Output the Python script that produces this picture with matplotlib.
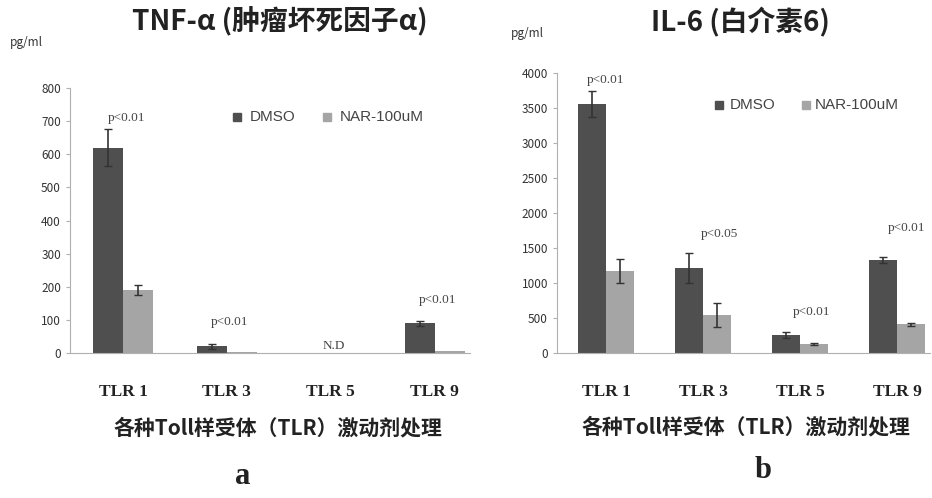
import numpy as np
import matplotlib
matplotlib.use('Agg')
import matplotlib.pyplot as plt

plt.rcParams['font.family'] = ['Noto Sans CJK SC', 'DejaVu Sans']

# Data
categories = ['TLR 1', 'TLR 3', 'TLR 5', 'TLR 9']
series_names = ['DMSO', 'NAR-100uM']

tnf_dmso = [620, 20, 0, 90]
tnf_dmso_err = [55, 8, 0, 8]
tnf_nar = [190, 2, 0, 5]
tnf_nar_err = [15, 0, 0, 0]
tnf_labels = ['p<0.01', 'p<0.01', 'N.D', 'p<0.01']
tnf_label_y = [710, 95, 22, 160]

il6_dmso = [3560, 1220, 260, 1330]
il6_dmso_err = [190, 215, 45, 40]
il6_nar = [1170, 540, 130, 410]
il6_nar_err = [170, 170, 20, 25]
il6_labels = ['p<0.01', 'p<0.05', 'p<0.01', 'p<0.01']
il6_label_y = [3900, 1700, 580, 1790]
il6_label_dx = [0.0, 0.17, 0.12, 0.1]

xlabel_text = '各种Toll样受体（TLR）激动剂处理'

W, H = 932, 498
fig = plt.figure(figsize=(W / 100, H / 100), dpi=100)

dmso_color = '#4f4f4f'
nar_color = '#a5a5a5'
axis_color = '#b0b0b0'


def px_axes(x0, x1, ytop, ybot):
    return fig.add_axes([x0 / W, (H - ybot) / H, (x1 - x0) / W, (ybot - ytop) / H])


def style_axes(ax, ymax, step):
    ax.set_ylim(0, ymax)
    ax.set_yticks(np.arange(0, ymax + 1, step))
    for s in ['top', 'right']:
        ax.spines[s].set_visible(False)
    ax.spines['left'].set_color(axis_color)
    ax.spines['bottom'].set_color(axis_color)
    ax.tick_params(axis='y', colors=axis_color, labelcolor='#333333', labelsize=8.5,
                   length=3, width=0.8)
    ax.tick_params(axis='x', length=0, pad=22)
    ax.set_xticks(np.arange(len(categories)))
    ax.set_xticklabels(categories, family='Liberation Serif', fontweight='bold',
                       fontsize=12.5, color='#222222')


def draw_err(ax, xs, vals, errs):
    xs, vals, errs = np.array(xs), np.array(vals), np.array(errs)
    keep = errs > 0
    ax.errorbar(xs[keep], vals[keep], yerr=errs[keep], fmt='none', ecolor='#333333',
                elinewidth=1.2, capsize=3)


x = np.arange(len(categories))
bw = 0.29

# Panel a: TNF-alpha
ax1 = px_axes(70, 470, 88, 353)
ax1.bar(x - bw / 2, tnf_dmso, bw, color=dmso_color)
ax1.bar(x + bw / 2, tnf_nar, bw, color=nar_color)
draw_err(ax1, x - bw / 2, tnf_dmso, tnf_dmso_err)
draw_err(ax1, x + bw / 2, tnf_nar, tnf_nar_err)
ax1.set_xlim(-0.51, 3.34)
style_axes(ax1, 800, 100)
for i, (t, yy) in enumerate(zip(tnf_labels, tnf_label_y)):
    ax1.text(x[i] + 0.03, yy, t, ha='center', va='center', fontsize=9.5,
             family='Liberation Serif', color='#444444')
ax1.text(-0.11, 1.17, 'pg/ml', transform=ax1.transAxes, fontsize=8.5, color='#333333',
         ha='center', va='center')

# Panel b: IL-6
ax2 = px_axes(557, 930, 73, 353)
ax2.bar(x - bw / 2, il6_dmso, bw, color=dmso_color)
ax2.bar(x + bw / 2, il6_nar, bw, color=nar_color)
draw_err(ax2, x - bw / 2, il6_dmso, il6_dmso_err)
draw_err(ax2, x + bw / 2, il6_nar, il6_nar_err)
ax2.set_xlim(-0.505, 3.34)
style_axes(ax2, 4000, 500)
for i, (t, yy) in enumerate(zip(il6_labels, il6_label_y)):
    ax2.text(x[i] + il6_label_dx[i], yy, t, ha='center', va='center', fontsize=9.5,
             family='Liberation Serif', color='#444444')
ax2.text(-0.08, 1.14, 'pg/ml', transform=ax2.transAxes, fontsize=8.5, color='#333333',
         ha='center', va='center')

# Legends (drawn as text + swatches in figure pixels)
def legend_at(xs, xt, y):
    for sx, tx, name, c in zip(xs, xt, series_names, [dmso_color, nar_color]):
        fig.patches.append(plt.Rectangle(((sx - 4) / W, (H - y - 4) / H), 8 / W, 8 / H,
                                         transform=fig.transFigure, color=c))
        fig.text(tx / W, (H - y) / H, name, ha='left', va='center', fontsize=11,
                 family='Liberation Sans', color='#444444')

legend_at([237, 327], [250, 340], 117)
legend_at([719, 806], [730, 815], 105)

# Titles
fig.text(280 / W, 1 - 22 / H, 'TNF-α (肿瘤坏死因子α)', ha='center', va='center',
         fontsize=20, fontweight='bold', color='#222222')
fig.text(740 / W, 1 - 22 / H, 'IL-6 (白介素6)', ha='center', va='center',
         fontsize=20, fontweight='bold', color='#222222')

# X labels and panel letters
fig.text(278 / W, 1 - 428 / H, xlabel_text, ha='center', va='center', fontsize=15,
         fontweight='bold', color='#222222')
fig.text(746 / W, 1 - 427 / H, xlabel_text, ha='center', va='center', fontsize=15,
         fontweight='bold', color='#222222')
fig.text(243 / W, 1 - 476 / H, 'a', ha='center', va='center', fontsize=22,
         fontweight='bold', family='Liberation Serif', color='#222222')
fig.text(763 / W, 1 - 470 / H, 'b', ha='center', va='center', fontsize=22,
         fontweight='bold', family='Liberation Serif', color='#222222')

fig.savefig('out.png', dpi=100)
